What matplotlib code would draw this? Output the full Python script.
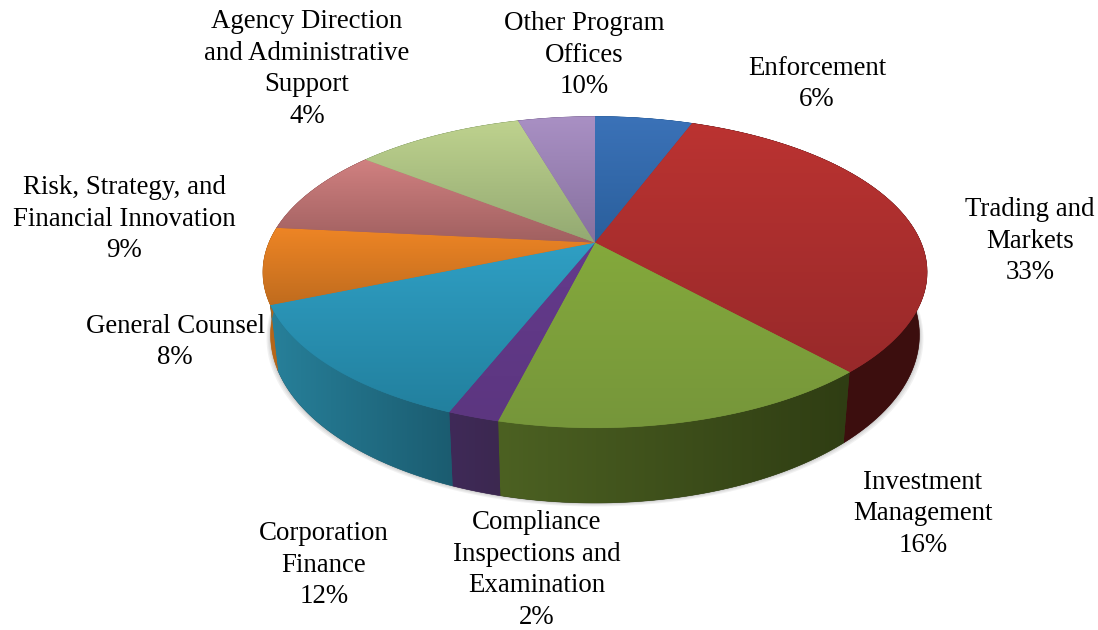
import numpy as np
import matplotlib
matplotlib.use("Agg")
import matplotlib.pyplot as plt
from matplotlib.patches import Polygon
from matplotlib.colors import to_rgb

# data: slice shares as drawn and the printed labels
categories = ["Enforcement", "Trading and\nMarkets", "Investment\nManagement",
              "Compliance\nInspections and\nExamination", "Corporation\nFinance",
              "General Counsel", "Risk, Strategy, and\nFinancial Innovation",
              "Other Program\nOffices", "Agency Direction\nand Administrative\nSupport"]
printed_pct = [6, 33, 16, 2, 12, 8, 9, 10, 4]
drawn_share = [5.7, 32.6, 15.6, 2.1, 12.7, 7.9, 9.0, 9.9, 4.5]

# styles
top_light = ["#3b72b8", "#bb3331", "#84a93c", "#643a8c", "#2f9fc4", "#ee8525", "#d08080", "#bed28e", "#a990c4"]
top_dark = ["#2a5f9c", "#98292a", "#76963a", "#5c3680", "#22809e", "#c06c1e", "#a06060", "#93a972", "#86709e"]
side_left = ["#2a5f9c", "#3f1010", "#4c6122", "#3f2a58", "#27809a", "#b5661a", "#a06060", "#93a972", "#86709e"]
side_right = ["#2a5f9c", "#3c0e0e", "#2f3d13", "#3c2850", "#1b5c70", "#b5661a", "#a06060", "#93a972", "#86709e"]
label_pos = [(817, 84), (1030, 241), (923, 514), (537, 570), (324, 565),
             (175, 342), (124, 219), (584, 55), (307, 69)]

# projected pie geometry (pixel space)
CX, CY, A, B, K = 595, 242.6, 326.0, 150.0, 0.19
SX, Y0, SY = 0.977, 303.0, 1.08


def rim(theta):
    X, Y = np.sin(theta), np.cos(theta)
    d = 1 + K * Y
    return CX + A * X / d, CY - B * Y / d


def bottom(x, y):
    return CX + SX * (x - CX), Y0 + SY * (y - CY)


def gradient(ax, poly, c0, c1, horizontal=False):
    xy = poly.get_xy()
    x0, x1, y0, y1 = xy[:, 0].min(), xy[:, 0].max(), xy[:, 1].min(), xy[:, 1].max()
    t = np.linspace(0, 1, 128)
    col = np.outer(1 - t, to_rgb(c0)) + np.outer(t, to_rgb(c1))
    img = col[None, :, :] if horizontal else col[:, None, :]
    im = ax.imshow(img, extent=(x0, x1, y1, y0), origin="upper", aspect="auto",
                   interpolation="bilinear", zorder=poly.get_zorder() + 0.1)
    im.set_clip_path(poly)


fig = plt.figure(figsize=(10.98, 6.30), dpi=100)
ax = fig.add_axes([0, 0, 1, 1])
ax.axis("off")

edges = np.radians(np.concatenate([[0], np.cumsum(drawn_share)]) / np.sum(drawn_share) * 360)

# soft shadow below the body
tt = np.linspace(0, 2 * np.pi, 361)
rx, ry = rim(tt)
bx, by = bottom(rx, ry)
for grow in (5, 3.5, 2, 1):
    ax.add_patch(Polygon(np.c_[CX + (bx - CX) * (1 + grow / 400), by + grow * 0.7],
                         fc="#555555", ec="none", alpha=0.08, zorder=1))

# side wall
for i in range(len(drawn_share)):
    th = np.linspace(edges[i], edges[i + 1], 80)
    x, y = rim(th)
    xb, yb = bottom(x, y)
    poly = Polygon(np.c_[np.r_[x, xb[::-1]], np.r_[y, yb[::-1]]], fc=side_right[i],
                   ec=side_right[i], lw=0.4, zorder=2)
    ax.add_patch(poly)
    gradient(ax, poly, side_left[i], side_right[i], horizontal=True)

# top face
for i in range(len(drawn_share)):
    th = np.linspace(edges[i], edges[i + 1], 120)
    x, y = rim(th)
    poly = Polygon(np.c_[np.r_[CX, x], np.r_[CY, y]], fc=top_dark[i], ec=top_dark[i],
                   lw=0.4, zorder=4)
    ax.add_patch(poly)
    gradient(ax, poly, top_light[i], top_dark[i])

# labels
for name, pct, (lx, ly) in zip(categories, printed_pct, label_pos):
    ax.text(lx, ly, f"{name}\n{pct}%", ha="center", va="center", multialignment="center",
            family="Liberation Serif", fontsize=19.4, linespacing=1.34, color="black", zorder=6)

ax.set_xlim(0, 1098)
ax.set_ylim(630, 0)
fig.savefig("out.png", dpi=100, facecolor="white")
